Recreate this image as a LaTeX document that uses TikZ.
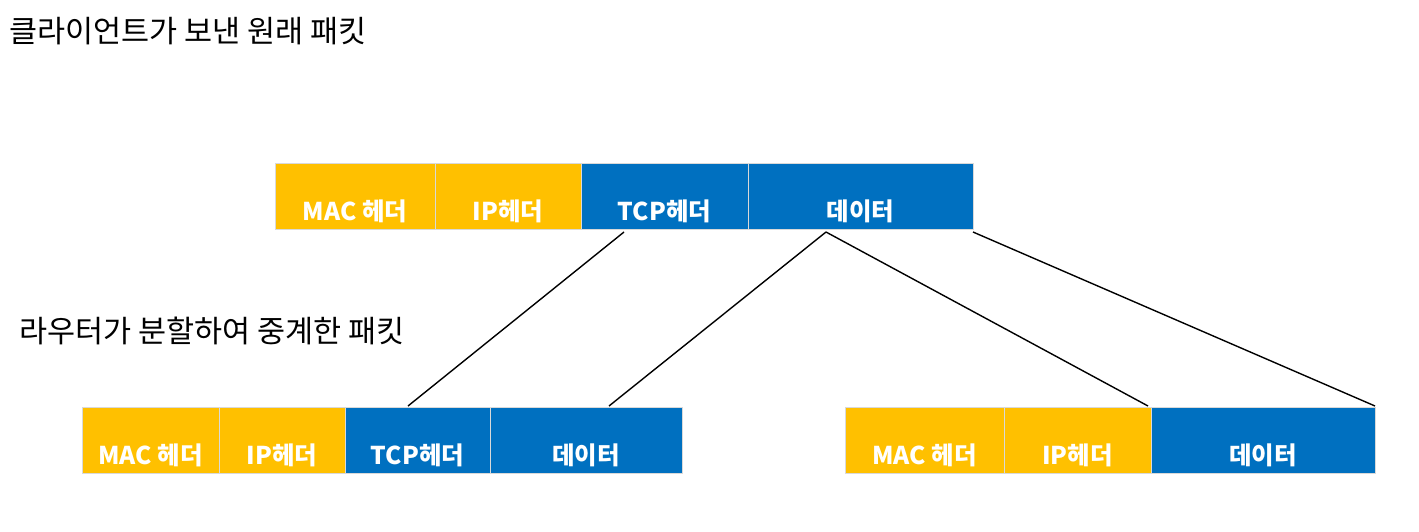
\documentclass[tikz,border=0pt]{standalone}
\usepackage{fontspec}
\setmainfont{Noto Sans CJK KR}
\definecolor{ylw}{HTML}{FFC000}
\definecolor{blu}{HTML}{0070C0}
\begin{document}
\begin{tikzpicture}[x=1pt,y=-1pt,
  cell/.style={draw=white!85!black,line width=1pt,inner sep=0pt,outer sep=0pt},
  lbl/.style={text=white,font=\bfseries\fontsize{24.5}{27}\selectfont,inner sep=0pt,anchor=center},
  title/.style={font=\fontsize{30.5}{33}\selectfont,anchor=west,inner sep=0pt},
  conn/.style={line width=1.4pt}]
\useasboundingbox (0,0) rectangle (1419,531);
\fill[white] (0,0) rectangle (1419,531);
\node[title] (t1) at (9,31) {클라이언트가 보낸 원래 패킷};
\node[title] (t2) at (19,331) {라우터가 분할하여 중계한 패킷};
\newcommand{\cellbox}[6]{%
  \path[cell,fill=#5] (#2,#3) rectangle (#4,#3+66);
  \node[lbl] (#1) at ({(#2+#4)/2},#3+48) {#6};
}
\cellbox{a1}{275}{163}{435}{ylw}{MAC 헤더}
\cellbox{a2}{435}{163}{581}{ylw}{IP헤더}
\cellbox{a3}{581}{163}{748}{blu}{TCP헤더}
\cellbox{a4}{748}{163}{973}{blu}{데이터}
\cellbox{b1}{82}{407}{219}{ylw}{MAC 헤더}
\cellbox{b2}{219}{407}{345}{ylw}{IP헤더}
\cellbox{b3}{345}{407}{490}{blu}{TCP헤더}
\cellbox{b4}{490}{407}{682}{blu}{데이터}
\cellbox{c1}{845}{407}{1004}{ylw}{MAC 헤더}
\cellbox{c2}{1004}{407}{1151}{ylw}{IP헤더}
\cellbox{c3}{1151}{407}{1375}{blu}{데이터}
\coordinate (p1) at (624,232);
\coordinate (p2) at (826,232);
\coordinate (p3) at (973,232);
\coordinate (q1) at (408,406);
\coordinate (q2) at (609,406);
\coordinate (q3) at (1148,406);
\coordinate (q4) at (1375,406);
\draw[conn] (p1) -- (q1);
\draw[conn] (p2) -- (q2);
\draw[conn] (p2) -- (q3);
\draw[conn] (p3) -- (q4);
\end{tikzpicture}
\end{document}
